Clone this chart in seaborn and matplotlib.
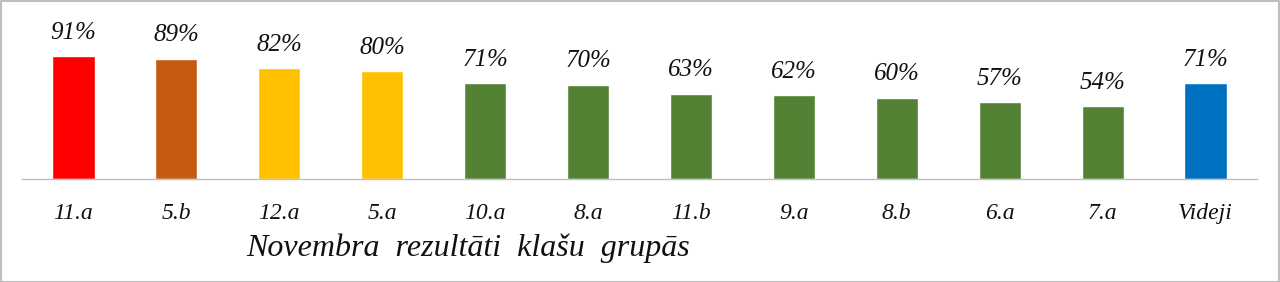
import matplotlib
matplotlib.use("Agg")
import matplotlib.pyplot as plt
import seaborn as sns
import pandas as pd
from matplotlib.patches import Rectangle

categories = ["11.a", "5.b", "12.a", "5.a", "10.a", "8.a", "11.b", "9.a", "8.b", "6.a", "7.a", "Videji"]
values = [91, 89, 82, 80, 71, 70, 63, 62, 60, 57, 54, 71]
colors = ["#FF0000", "#C55A11", "#FFC000", "#FFC000", "#548235", "#548235",
          "#548235", "#548235", "#548235", "#548235", "#548235", "#0070C0"]
axis_title = "Novembra  rezultāti  klašu  grupās"

sns.set_theme(style="white")
plt.rcParams['font.family'] = ['Liberation Serif', 'DejaVu Serif']

df = pd.DataFrame({"cat": categories, "val": values})

fig = plt.figure(figsize=(12.8, 2.82), dpi=100)
ax = fig.add_axes([22/1280, 1 - 179/282, (1257-22)/1280, (179-44)/282])
sns.barplot(data=df, x="cat", y="val", hue="cat", palette=colors, legend=False,
            width=0.41, ax=ax, saturation=1)
ax.set_xlim(-0.5, len(categories) - 0.5)
ax.set_ylim(0, 100)
ax.set_yticks([])
for s in ["top", "right", "left"]:
    ax.spines[s].set_visible(False)
ax.spines["bottom"].set_color("#BFBFBF")
ax.spines["bottom"].set_linewidth(1)
ax.set_xlabel("")
ax.set_ylabel("")
ax.set_xticks(range(len(categories)))
ax.set_xticklabels(categories, fontsize=17, fontstyle="italic", color="#111111")
ax.tick_params(axis="x", length=0, pad=17)

for i, v in enumerate(values):
    ax.annotate(f"{v}%", (i, v), xytext=(0, 9), textcoords="offset points",
                ha="center", va="bottom", fontsize=18, fontstyle="italic", color="#111111")

fig.text(468/1280, 1 - 248/282, axis_title, ha="center", va="center",
         fontsize=23, fontstyle="italic", color="#111111")

fig.patches.append(Rectangle((0.5/1280, 0.5/282), 1 - 1.5/1280, 1 - 1.5/282,
                             transform=fig.transFigure, fill=False,
                             edgecolor="#BFBFBF", linewidth=1.5))

fig.savefig("out.png", dpi=100, facecolor="white")
